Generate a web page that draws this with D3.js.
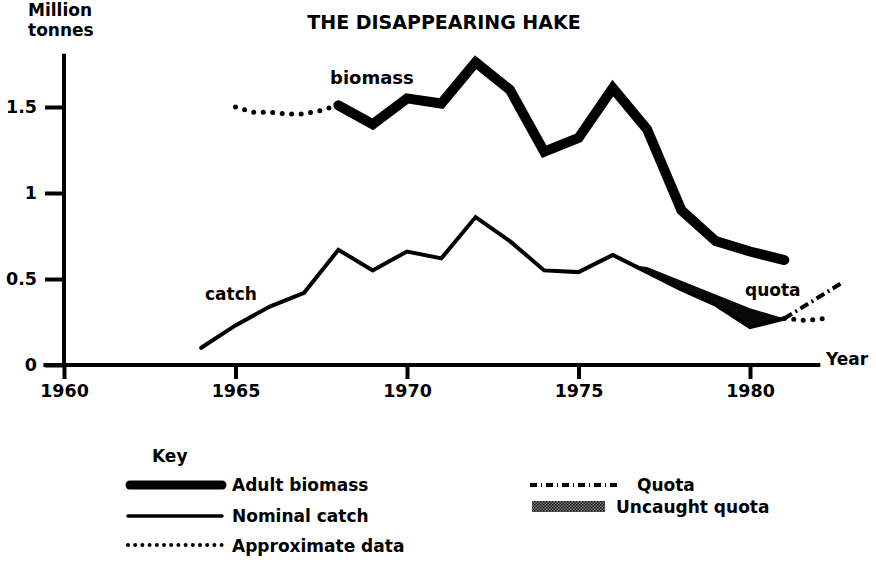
<!DOCTYPE html>
<html>
<head>
<meta charset="utf-8">
<script src="https://cdn.jsdelivr.net/npm/d3@7"></script>
<style>
  body { margin: 0; background: #fff; }
  svg { font-family: "DejaVu Sans", sans-serif; font-weight: bold; }
  text { fill: #000; }
</style>
</head>
<body>
<svg width="876" height="563"></svg>
<script>
// adult biomass (solid, thick)
const biomassYears = [1968, 1969, 1970, 1971, 1972, 1973, 1974, 1975, 1976, 1977, 1978, 1979, 1980, 1981];
const biomassValues = [1.51, 1.40, 1.55, 1.52, 1.76, 1.60, 1.24, 1.32, 1.61, 1.37, 0.90, 0.72, 0.66, 0.61];

// biomass, approximate (dotted)
const biomassApproxYears = [1965, 1965.5, 1966, 1966.5, 1967, 1967.5, 1968];
const biomassApproxValues = [1.50, 1.47, 1.47, 1.46, 1.46, 1.48, 1.51];

// nominal catch
const catchYears = [1964, 1965, 1966, 1967, 1968, 1969, 1970, 1971, 1972, 1973, 1974, 1975, 1976, 1977, 1978, 1979, 1980, 1981];
const catchValues = [0.10, 0.23, 0.34, 0.42, 0.67, 0.55, 0.66, 0.62, 0.86, 0.72, 0.55, 0.54, 0.64, 0.54, 0.44, 0.35, 0.22, 0.27];

// catch, approximate (dotted)
const catchApproxYears = [1981, 1981.6, 1982.2];
const catchApproxValues = [0.27, 0.26, 0.27];

// quota (upper edge of uncaught quota, then dash-dot projection)
const quotaYears = [1976.6, 1977, 1978, 1979, 1980, 1981];
const quotaValues = [0.58, 0.57, 0.49, 0.41, 0.33, 0.27];
const quotaProjYears = [1981, 1982.7];
const quotaProjValues = [0.27, 0.48];

const xTicks = [1960, 1965, 1970, 1975, 1980];
const yTicks = [0, 0.5, 1, 1.5];
const yTickLabels = ["0", "0.5", "1", "1.5"];

const svg = d3.select('svg');

const x = d3.scaleLinear().domain([1960, 1980]).range([64, 750]);
const y = d3.scaleLinear().domain([0, 1.5]).range([365, 107]);

const zip = (xs, ys) => xs.map((d, i) => [d, ys[i]]);
const line = d3.line().x(d => x(d[0])).y(d => y(d[1]));

// axes
const yAxis = svg.append('g')
  .attr('transform', `translate(${x(1960)},0)`)
  .call(d3.axisLeft(y).tickValues(yTicks).tickSize(19).tickPadding(8)
    .tickFormat((d, i) => yTickLabels[i]));
yAxis.select('.domain').remove();
yAxis.selectAll('line').attr('stroke', '#000').attr('stroke-width', 4);
yAxis.selectAll('text').attr('font-size', 17.5).attr('font-family', 'DejaVu Sans').attr('font-weight', 'bold');

const xAxis = svg.append('g')
  .attr('transform', `translate(0,${y(0)})`)
  .call(d3.axisBottom(x).tickValues(xTicks).tickSize(14).tickPadding(6).tickFormat(d3.format('d')));
xAxis.select('.domain').remove();
xAxis.selectAll('line').attr('stroke', '#000').attr('stroke-width', 4);
xAxis.selectAll('text').attr('font-size', 17.5).attr('font-family', 'DejaVu Sans').attr('font-weight', 'bold');

svg.append('line')
  .attr('x1', x(1960)).attr('x2', x(1960))
  .attr('y1', y(1.81)).attr('y2', y(0) + 2)
  .attr('stroke', '#000').attr('stroke-width', 4);
svg.append('line')
  .attr('x1', x(1959.4)).attr('x2', x(1982.05))
  .attr('y1', y(0)).attr('y2', y(0))
  .attr('stroke', '#000').attr('stroke-width', 4);

// uncaught quota area
const catchAt = d3.scaleLinear().domain(catchYears).range(catchValues);
svg.append('path')
  .datum(zip(quotaYears, quotaValues))
  .attr('fill', '#0a0a0a')
  .attr('d', d3.area().x(d => x(d[0])).y0(d => y(catchAt(d[0]))).y1(d => y(d[1])));

// catch
svg.append('path')
  .datum(zip(catchYears, catchValues))
  .attr('fill', 'none').attr('stroke', '#000').attr('stroke-width', 4)
  .attr('stroke-linejoin', 'miter').attr('stroke-linecap', 'round')
  .attr('d', line);

// biomass
svg.append('path')
  .datum(zip(biomassYears, biomassValues))
  .attr('fill', 'none').attr('stroke', '#000').attr('stroke-width', 10)
  .attr('stroke-linejoin', 'miter').attr('stroke-miterlimit', 6).attr('stroke-linecap', 'round')
  .attr('d', line);

// approximate (dotted)
[[biomassApproxYears, biomassApproxValues], [catchApproxYears, catchApproxValues]].forEach(([xs, ys]) => {
  svg.append('path')
    .datum(zip(xs, ys))
    .attr('fill', 'none').attr('stroke', '#000').attr('stroke-width', 5)
    .attr('stroke-linecap', 'round').attr('stroke-dasharray', '0 9.5')
    .attr('d', line);
});

// quota projection (dash-dot)
svg.append('path')
  .datum(zip(quotaProjYears, quotaProjValues))
  .attr('fill', 'none').attr('stroke', '#000').attr('stroke-width', 4)
  .attr('stroke-dasharray', '9 4 2 4')
  .attr('d', line);

// labels
const label = (txt, px, py, anchor = 'start', size = 17) =>
  svg.append('text').attr('x', px).attr('y', py).attr('text-anchor', anchor)
    .attr('font-size', size).text(txt);

label('Million', 28, 16);
label('tonnes', 28, 36);
label('THE DISAPPEARING HAKE', 444, 29, 'middle', 19);
label('biomass', 330, 84, 'start', 18);
label('catch', 205, 300);
label('quota', 745, 296);
label('Year', 826, 365);

// legend
const defs = svg.append('defs');
const pat = defs.append('pattern').attr('id', 'dither').attr('width', 3).attr('height', 3)
  .attr('patternUnits', 'userSpaceOnUse');
pat.append('rect').attr('width', 3).attr('height', 3).attr('fill', '#777');
pat.append('rect').attr('width', 1.5).attr('height', 1.5).attr('fill', '#111');
pat.append('rect').attr('x', 1.5).attr('y', 1.5).attr('width', 1.5).attr('height', 1.5).attr('fill', '#222');

label('Key', 152, 462);
const legendLine = (x1, x2, yy, width, dash) => {
  const l = svg.append('line').attr('x1', x1).attr('x2', x2).attr('y1', yy).attr('y2', yy)
    .attr('stroke', '#000').attr('stroke-width', width).attr('stroke-linecap', 'round');
  if (dash) l.attr('stroke-dasharray', dash);
  return l;
};
legendLine(130, 222, 485, 9);
label('Adult biomass', 232, 491);
legendLine(128, 222, 516, 3.5);
label('Nominal catch', 232, 522);
legendLine(128, 222, 545, 4, '0 7.2');
label('Approximate data', 232, 552);

legendLine(530, 621, 485, 4, '7 4 1 4').attr('stroke-linecap', 'butt');
label('Quota', 637, 491);
svg.append('rect').attr('x', 532).attr('y', 501).attr('width', 73).attr('height', 11).attr('fill', 'url(#dither)');
label('Uncaught quota', 616, 513);
</script>
</body>
</html>
